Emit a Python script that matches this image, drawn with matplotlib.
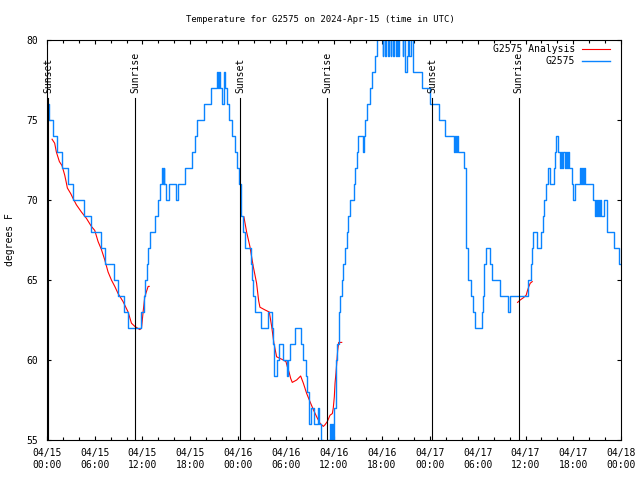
import matplotlib
matplotlib.use('Agg')
import matplotlib.pyplot as plt
import matplotlib.dates as mdates
import matplotlib.transforms as mtransforms
import pandas as pd

# hours after 2024-04-15 00:00 UTC, temperature in degrees F
blue_hours = [0.2, 0.33, 0.75, 1.3, 1.92, 2.67, 3.3, 4.68, 5.55, 6.8, 7.25, 8.4, 8.9, 9.65, 10.2,
              11.8, 12.2, 12.35, 12.55, 12.7, 12.95, 13.6, 13.95, 14.15, 14.4, 14.55, 14.65, 14.75,
              15.0, 15.35, 16.15, 16.45, 17.3, 18.25, 18.6, 18.85, 19.7, 20.55, 21.3, 21.45, 21.6,
              21.75, 22.0, 22.2, 22.4, 22.65, 22.9, 23.25, 23.6, 23.85, 24.1, 24.3, 24.6, 24.85,
              25.55, 25.75, 25.9, 26.05, 26.9, 27.75, 28.25, 28.35, 28.5, 28.9, 29.05, 29.55, 30.05,
              30.25, 30.45, 31.15, 31.85, 32.1, 32.45, 32.65, 32.85, 33.15, 33.55, 34.0, 34.1, 34.4,
              34.6, 35.25, 35.45, 35.6, 35.75, 35.9, 36.0, 36.2, 36.4, 36.6, 36.75, 36.95, 37.15,
              37.4, 37.6, 37.8, 38.0, 38.45, 38.65, 38.85, 39.05, 39.6, 39.75, 39.9, 40.1, 40.5,
              40.8, 41.15, 41.35, 42.1, 42.2, 42.45, 42.55, 42.75, 42.85, 43.1, 43.2, 43.4, 43.5,
              43.75, 43.85, 44.05, 44.15, 44.6, 44.7, 44.9, 45.1, 45.3, 45.45, 45.6, 45.95, 47.0,
              48.05, 49.1, 49.85, 51.05, 51.15, 51.3, 51.4, 51.55, 52.3, 52.55, 52.85, 53.15, 53.4,
              53.65, 54.5, 54.7, 54.85, 55.05, 55.5, 55.75, 56.85, 57.85, 58.1, 60.35, 60.65, 60.8,
              60.95, 61.4, 62.0, 62.2, 62.35, 62.6, 62.8, 63.05, 63.6, 63.7, 63.8, 64.1, 64.3,
              64.45, 64.6, 64.75, 64.9, 65.05, 65.2, 65.35, 65.5, 65.8, 65.95, 66.25, 66.85, 66.95,
              67.1, 67.2, 67.35, 67.45, 68.5, 68.7, 68.85, 68.95, 69.1, 69.2, 69.35, 69.45, 69.8,
              70.15, 71.1, 71.75, 72.0]
blue_temps = [76, 75, 74, 73, 72, 71, 70, 69, 68, 67, 66, 65, 64, 63, 62,
              63, 64, 65, 66, 67, 68, 69, 70, 71, 72, 71, 72, 71,
              70, 71, 70, 71, 72, 73, 74, 75, 76, 77, 78, 77, 78,
              77, 76, 78, 77, 76, 75, 74, 73, 72, 71, 69, 68, 67,
              66, 65, 64, 63, 62, 63, 62, 61, 59, 60, 61, 60, 59,
              60, 61, 62, 61, 60, 59, 58, 56, 57, 56, 57, 56, 55,
              54, 55, 56, 55, 56, 54, 57, 60, 61, 63, 64, 65, 66,
              67, 68, 69, 70, 71, 72, 73, 74, 73, 74, 75, 76, 77,
              78, 79, 81, 79, 81, 79, 81, 79, 81, 79, 81, 79, 81,
              79, 81, 79, 81, 79, 81, 78, 79, 81, 79, 81, 78, 77,
              76, 75, 74, 73, 74, 73, 74, 73, 72, 67, 65, 64, 63,
              62, 63, 64, 66, 67, 66, 65, 64, 63, 64, 65, 66, 67,
              68, 67, 68, 69, 70, 71, 72, 71, 72, 73, 74, 73, 72,
              73, 72, 73, 72, 73, 72, 73, 72, 71, 70, 71, 72, 71,
              72, 71, 72, 71, 70, 69, 70, 69, 70, 69, 70, 69, 70,
              68, 67, 66, 66]

red1_hours = [0.67, 1.0, 1.21, 1.59, 1.92, 2.26, 2.43, 2.59, 3.01, 3.3, 3.72, 4.35, 4.98, 5.6,
              6.02, 6.44, 6.86, 7.28, 7.69, 8.11, 8.53, 8.95, 9.57, 10.2, 10.62, 11.04, 11.67,
              11.88, 12.08, 12.29, 12.71, 12.84]
red1_temps = [73.8, 73.55, 73.0, 72.4, 72.15, 71.55, 71.15, 70.75, 70.4, 70.1, 69.7, 69.25, 68.85,
              68.35, 68.1, 67.4, 66.9, 66.25, 65.5, 65.0, 64.6, 64.15, 63.65, 63.0, 62.3, 62.1,
              61.9, 62.0, 63.0, 63.95, 64.6, 64.6]

red2_hours = [24.71, 25.05, 25.46, 25.88, 26.3, 26.56, 26.72, 27.35, 27.89, 28.19, 28.47, 28.81,
              29.23, 29.64, 29.98, 30.14, 30.39, 30.57, 30.77, 31.32, 31.82, 32.16, 32.58, 32.99,
              33.41, 33.83, 34.24, 34.66, 34.87, 35.16, 35.5, 35.79, 35.91, 36.04, 36.13, 36.25,
              36.34, 36.46, 36.59, 36.97]
red2_temps = [68.95, 68.0, 67.1, 65.85, 64.8, 63.7, 63.3, 63.13, 63.0, 62.1, 61.05, 60.2, 60.1,
              60.0, 59.9, 59.6, 59.2, 58.85, 58.6, 58.75, 59.0, 58.55, 57.9, 57.4, 56.9, 56.45,
              56.05, 55.85, 55.95, 56.15, 56.55, 56.65, 57.0, 57.7, 58.55, 59.2, 59.8, 60.6,
              61.1, 61.1]

red3_hours = [59.0, 59.33, 59.75, 60.08, 60.25, 60.42, 60.59, 60.84]
red3_temps = [63.6, 63.75, 63.9, 64.05, 64.35, 64.6, 64.8, 64.9]

event_hours = [0.2, 11.1, 24.25, 35.15, 48.33, 59.12]
event_names = ['Sunset', 'Sunrise', 'Sunset', 'Sunrise', 'Sunset', 'Sunrise']

start = pd.Timestamp('2024-04-15 00:00')


def to_time(hours):
    return start + pd.to_timedelta(hours, unit='h')


plt.rcParams['font.family'] = ['DejaVu Sans Mono']
plt.rcParams['font.size'] = 7

fig = plt.figure(figsize=(6.4, 4.8), dpi=100)
ax = fig.add_axes([46.7 / 640, 40 / 480, 574.6 / 640, 400 / 480])

ax.plot(to_time(red1_hours), red1_temps, color='#ff0000', lw=0.8, label='G2575 Analysis')
ax.plot(to_time(red2_hours), red2_temps, color='#ff0000', lw=0.8)
ax.plot(to_time(red3_hours), red3_temps, color='#ff0000', lw=0.8)
ax.plot(to_time(blue_hours), blue_temps, color='#0a84ff', lw=1.0, drawstyle='steps-post',
        label='G2575')

trans = mtransforms.blended_transform_factory(ax.transData, ax.transAxes)
for h, name in zip(event_hours, event_names):
    t = to_time(h)
    ax.axvline(t, ymin=0, ymax=0.855, color='black', lw=0.8)
    ax.text(t, 0.868, name, rotation=90, ha='center', va='bottom', transform=trans, fontsize=7)

ax.set_xlim(start, to_time(72))
ax.set_ylim(55, 80)
ax.set_yticks([55, 60, 65, 70, 75, 80])
ax.xaxis.set_major_locator(mdates.HourLocator(byhour=[0, 6, 12, 18]))
ax.xaxis.set_minor_locator(mdates.HourLocator(byhour=range(0, 24, 2)))
ax.xaxis.set_major_formatter(mdates.DateFormatter('%m/%d\n%H:%M'))
ax.tick_params(which='both', direction='in', top=True, right=True, width=0.8)
ax.tick_params(which='major', length=3, pad=6)
ax.tick_params(which='minor', length=2)
for sp in ax.spines.values():
    sp.set_linewidth(0.8)

leg = ax.legend(loc='upper right', bbox_to_anchor=(0.98, 0.99), frameon=False, markerfirst=False,
                handlelength=2.9, handletextpad=0.7, labelspacing=0.25, borderpad=0,
                borderaxespad=0, fontsize=7)

fig.text(0.5, 1 - 20 / 480, 'Temperature for G2575 on 2024-Apr-15 (time in UTC)',
         ha='center', va='center', fontsize=6.5)
fig.text(10 / 640, 0.5, 'degrees F', rotation=90, ha='center', va='center', fontsize=7)

fig.savefig('out.png', dpi=100)
